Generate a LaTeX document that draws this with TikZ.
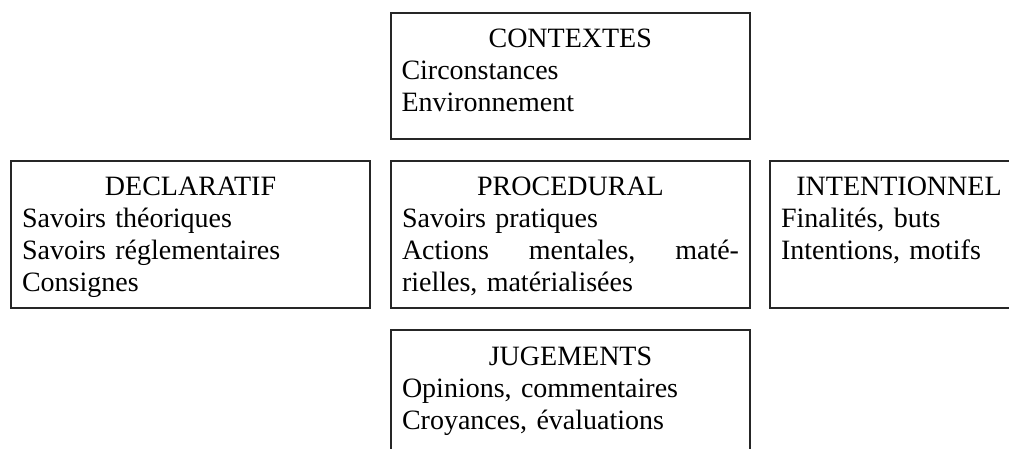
\documentclass[tikz,border=0pt]{standalone}
\usepackage{fontspec}
\setmainfont{Liberation Serif}
\newcommand{\boxtitle}[1]{\hfill #1\hfill\mbox{}\\}
\tikzset{
  cbox/.style={rectangle, draw=black!85, line width=2pt, anchor=north west,
    inner xsep=11pt, inner ysep=0pt, align=left,
    font=\fontsize{28}{32}\selectfont, text height=35pt},
}
\begin{document}
\begin{tikzpicture}[x=1pt,y=-1pt]
\useasboundingbox (0,0) rectangle (1009,449);
\clip (0,0) rectangle (1009,449);
\node[cbox, text width=337.5pt, text depth=91pt] (ctx) at (389.5,12)
  {\boxtitle{CONTEXTES}Circonstances\\Environnement};
\node[cbox, text width=337pt, text depth=112pt] (decl) at (10,160)
  {\boxtitle{DECLARATIF}Savoirs théoriques\\Savoirs réglementaires\\Consignes};
\node[cbox, text width=337pt, text depth=112pt] (proc) at (390,160)
  {\boxtitle{PROCEDURAL}Savoirs pratiques\\Actions\hfill mentales,\hfill maté-\\rielles, matérialisées};
\node[cbox, text width=236pt, text depth=112pt] (intent) at (769,160)
  {\boxtitle{INTENTIONNEL}Finalités, buts\\Intentions, motifs};
\node[cbox, text width=337pt, text depth=150pt] (jug) at (390,329)
  {\boxtitle{JUGEMENTS}Opinions, commentaires\\Croyances, évaluations};
\end{tikzpicture}
\end{document}
